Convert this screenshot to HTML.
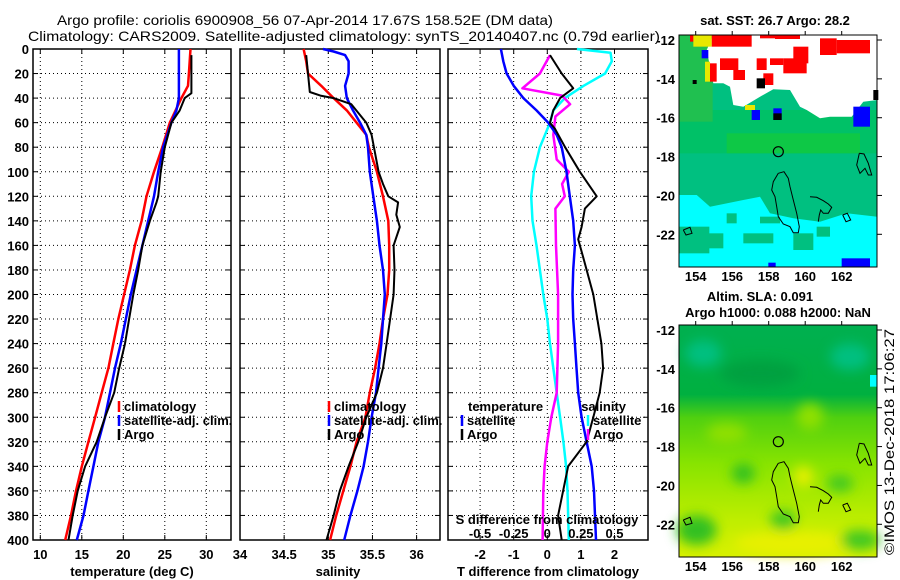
<!DOCTYPE html>
<html><head><meta charset="utf-8"><style>
html,body{margin:0;padding:0;background:#fff;}
svg{display:block;font-family:"Liberation Sans",sans-serif;}
.t{font-size:13px;font-weight:bold;fill:#000;}
.ti{font-size:14px;fill:#000;}
</style></head><body>
<svg id="fig" width="900" height="580" viewBox="0 0 900 580" xmlns="http://www.w3.org/2000/svg">
<text class="ti" x="57" y="25" textLength="496" lengthAdjust="spacingAndGlyphs">Argo profile: coriolis 6900908_56 07-Apr-2014 17.67S 158.52E (DM data)</text>
<text class="ti" x="28" y="41" textLength="632" lengthAdjust="spacingAndGlyphs">Climatology: CARS2009. Satellite-adjusted climatology: synTS_20140407.nc (0.79d earlier)</text>
<g id="charts"></g>
<g id="maps"></g>
<text x="894" y="555" transform="rotate(-90 894 555)" font-size="14" textLength="226" lengthAdjust="spacingAndGlyphs">©IMOS 13-Dec-2018 17:06:27</text>
</svg>
<script>
// ---------- data ----------
const depths = [0,20,40,60,80,100,120,140,160,180,200,220,240,260,280,300,320,340,360,380,400];
const depthTicks = [0,20,40,60,80,100,120,140,160,180,200,220,240,260,280,300,320,340,360,380,400];
const tempTicks = [10,15,20,25,30];
const salTicks = [34,34.5,35,35.5,36];
const tdiffTicks = [-2,-1,0,1,2];
const sdiffTicks = [-0.5,-0.25,0,0.25,0.5];

const tClimDepth = [0,20,30,40,60,80,100,120,140,160,180,200,220,240,260,280,300,320,340,360,380,400];
const tClim = [28.1,27.9,27.8,27.0,25.6,24.7,23.7,22.8,22.2,21.4,20.8,20.1,19.4,18.8,18.2,17.4,16.6,15.8,15.0,14.3,13.7,13.0];
const tSatDepth = [0,40,50,60,80,100,120,140,160,180,200,220,240,260,280,300,320,340,360,380,400];
const tSat = [26.7,26.7,26.4,25.8,24.8,24.2,23.7,23.0,22.3,21.6,20.9,20.3,19.7,19.0,18.4,17.8,17.0,16.4,15.8,15.2,14.4];
const tArgoDepth = [5,36,40,50,60,80,100,120,125,140,160,180,200,220,240,260,280,300,320,340,360,380,400];
const tArgo = [28.2,28.2,27.4,26.8,25.8,25.0,24.5,24.2,24.0,23.2,22.3,21.8,21.2,20.7,20.2,19.5,18.9,17.8,16.8,15.4,14.5,13.9,13.4];

const sClimDepth = [0,10,20,30,40,50,60,70,80,100,120,140,160,180,200,220,240,260,280,300,320,340,360,380,400];
const sClim = [34.72,34.75,34.77,34.92,35.06,35.21,35.32,35.43,35.46,35.55,35.62,35.68,35.69,35.69,35.67,35.62,35.58,35.53,35.47,35.42,35.32,35.25,35.17,35.09,35.02];
const sSatDepth = [0,2,5,10,20,30,40,50,60,70,80,100,120,140,160,180,200,220,240,260,280,300,320,340,360,380,400];
const sSat = [34.94,35.06,35.19,35.23,35.23,35.19,35.21,35.28,35.36,35.43,35.45,35.47,35.51,35.55,35.58,35.62,35.64,35.62,35.60,35.57,35.54,35.49,35.45,35.40,35.33,35.25,35.18];
const sArgoDepth = [5,35,38,40,45,60,70,100,110,120,125,135,145,160,180,200,220,240,260,280,300,320,340,360,380,400];
const sArgo = [34.75,34.79,34.91,35.06,35.26,35.43,35.49,35.57,35.62,35.68,35.79,35.77,35.81,35.74,35.75,35.74,35.70,35.66,35.62,35.55,35.43,35.34,35.23,35.13,35.06,34.98];

const dtSatDepth = [0,10,20,30,40,50,60,70,80,100,120,140,160,180,200,220,240,260,280,300,320,340,360,380,400];
const dtSat = [-1.38,-1.31,-1.21,-1.0,-0.71,-0.32,0.03,0.28,0.43,0.57,0.67,0.77,0.82,0.77,0.75,0.77,0.82,0.87,0.92,1.02,1.17,1.32,1.39,1.42,1.45];
const dtArgoDepth = [5,20,32,40,50,60,65,80,100,120,130,145,155,170,200,240,260,280,300,320,340,360,380,400];
const dtArgo = [0.08,0.43,0.77,0.38,0.18,0.08,0.23,0.53,0.97,1.47,1.12,1.02,0.92,1.07,1.37,1.61,1.66,1.56,1.37,1.17,0.62,0.47,0.32,0.43];
const dsArgoDepth = [5,20,32,38,45,55,70,90,100,110,120,130,160,200,240,280,300,320,340,360,400];
const dsArgo = [0.02,-0.055,-0.185,0.11,0.17,0.06,0.045,0.07,0.16,0.11,0.13,0.06,0.065,0.08,0.08,0.07,0.03,0.0,-0.02,-0.03,-0.035];
const dsSatDepth = [0,3,10,20,30,40,50,60,80,100,120,140,160,180,200,220,240,260,280,300,320,340,360,400];
const dsSat = [0.22,0.47,0.48,0.43,0.27,0.13,0.045,0.02,-0.055,-0.1,-0.12,-0.11,-0.08,-0.055,-0.03,0.0,0.02,0.045,0.07,0.095,0.12,0.14,0.15,0.16];

// ---------- drawing ----------
const NS = "http://www.w3.org/2000/svg";
const charts = document.getElementById('charts');
const TOP = 49, BOT = 540;
function yD(d){ return TOP + d*(BOT-TOP)/400; }
function xT(t){ return 40.3 + (t-10)*8.3; }
function xS(s){ return 240 + (s-34)*88.3; }
function xDT(v){ return 547.3 + v*33.6; }
function xDS(v){ return 547.3 + v*4*33.6; }
function mk(tag, attrs, parent){ const e=document.createElementNS(NS,tag); for(const k in attrs) e.setAttribute(k,attrs[k]); (parent||charts).appendChild(e); return e; }
function txt(x,y,s,anchor,cls,parent){ const e=mk('text',{x:x,y:y,'text-anchor':anchor||'middle','class':cls||'t'},parent); e.textContent=s; return e; }

function panel(name, x0, x1, xTicks, xf, xLabels){
  const g = mk('g',{});
  
  
  depthTicks.forEach(d=>{ if(d>0&&d<400){ const l=mk('line',{x1:x0,x2:x1,y1:yD(d),y2:yD(d),stroke:'#000','stroke-width':1,'stroke-dasharray':'1,3'},g);
     
    mk('line',{x1:x0,x2:x0+5,y1:yD(d),y2:yD(d),stroke:'#000'},g); mk('line',{x1:x1-5,x2:x1,y1:yD(d),y2:yD(d),stroke:'#000'},g);} });
  xTicks.forEach((v,i)=>{ const x=xf(v); if(x>x0+1&&x<x1-1){ const l=mk('line',{x1:x,x2:x,y1:TOP,y2:BOT,stroke:'#000','stroke-width':1,'stroke-dasharray':'1,3'},g);
     
    mk('line',{x1:x,x2:x,y1:TOP,y2:TOP+5,stroke:'#000'},g); mk('line',{x1:x,x2:x,y1:BOT-5,y2:BOT,stroke:'#000'},g);}
    if(xLabels){ const t=txt(x,559,xLabels[i],'middle','t',g);   } });
  const r=mk('rect',{x:x0,y:TOP,width:x1-x0,height:BOT-TOP,fill:'none',stroke:'#000','stroke-width':1.5},g);
   
  return g;
}
function line(g, ds, vs, xf, color, w, name){
  const p = ds.map((d,i)=>xf(vs[i]).toFixed(1)+','+yD(d).toFixed(1)).join(' ');
  const e = mk('polyline',{points:p,fill:'none',stroke:color,'stroke-width':w,'stroke-linejoin':'round'},g);
  
  
}
function legend(g, x, y, color, label){
  const m=mk('line',{x1:x,x2:x,y1:y-10,y2:y+1,stroke:color,'stroke-width':2.5},g);
   
  if(label){ const t=txt(x+5,y,label,'start','t',g);   }
}

depthTicks.forEach(d=>{ const t=txt(29,yD(d)+5,String(d),'end');
    });

const g1 = panel('temperature-panel', 33, 231, tempTicks, xT, tempTicks.map(String));
line(g1, tClimDepth, tClim, xT, '#f00', 2.5, 'temperature-climatology-line');
line(g1, tSatDepth, tSat, xT, '#00f', 2.5, 'temperature-satellite-line');
line(g1, tArgoDepth, tArgo, xT, '#000', 2, 'temperature-argo-line');
legend(g1,119,411,'#f00','climatology'); legend(g1,119,425,'#00f','satellite-adj. clim.'); legend(g1,119,439,'#000','Argo');
txt(132,576,'temperature (deg C)');

const g2 = panel('salinity-panel', 240, 440, salTicks, xS, ['34','34.5','35','35.5','36']);
line(g2, sClimDepth, sClim, xS, '#f00', 2.5, 'salinity-climatology-line');
line(g2, sSatDepth, sSat, xS, '#00f', 2.5, 'salinity-satellite-line');
line(g2, sArgoDepth, sArgo, xS, '#000', 2, 'salinity-argo-line');
legend(g2,329,411,'#f00','climatology'); legend(g2,329,425,'#00f','satellite-adj. clim.'); legend(g2,329,439,'#000','Argo');
txt(338,576,'salinity');

const g3 = panel('difference-panel', 448, 648, tdiffTicks, xDT, tdiffTicks.map(String));
line(g3, dsSatDepth, dsSat, xDS, '#0ff', 2.5, 'salinity-diff-satellite-line');
line(g3, dsArgoDepth, dsArgo, xDS, '#f0f', 2.5, 'salinity-diff-argo-line');
line(g3, dtSatDepth, dtSat, xDT, '#00f', 2.5, 'temperature-diff-satellite-line');
line(g3, dtArgoDepth, dtArgo, xDT, '#000', 2, 'temperature-diff-argo-line');
txt(468,411,'temperature','start');
legend(g3,462,425,'#00f','satellite'); legend(g3,462,439,'#000','Argo');
txt(626,411,'salinity','end');
legend(g3,588,425,'#0ff','satellite'); legend(g3,588,439,'#f0f','Argo');
txt(547,524,'S difference from climatology');
sdiffTicks.forEach((v,i)=>{ const t=txt(xDS(v),538,['-0.5','-0.25','0','0.25','0.5'][i]);
    });
txt(548,576,'T difference from climatology');

// ---------- maps ----------
const maps = document.getElementById('maps');
function zp(pts, dy){ return pts.map(p=>(660+p[0]/3).toFixed(1)+','+(p[1]/3+dy).toFixed(1)).join(' '); }
function zr(r, dy, fill, parent, name){ const e=mk('rect',{x:660+r[0]/3,y:r[1]/3+dy,width:r[2]/3,height:r[3]/3,fill:fill},parent);   return e; }
const island1=[[355,520],[372,515],[385,535],[390,560],[400,600],[410,640],[418,680],[415,698],[400,698],[390,680],[370,672],[355,650],[350,620],[345,590],[335,570],[340,545],[355,520]];
const island2=[[450,590],[470,592],[490,602],[505,612],[515,622],[505,640],[490,640],[482,630],[478,645],[475,665]];
const island3=[[598,460],[612,462],[625,490],[635,525],[625,525],[615,505],[600,520],[590,495],[598,460]];
const island4=[[70,690],[90,682],[96,700],[78,705],[70,690]];
const island5=[[548,645],[562,640],[572,660],[558,665],[548,645]];
function mapFrame(dy, name){
  const g = mk('g',{},maps);
  
  
  return g;
}
function decorate(g, dy){
  [island1,island2,island3,island4,island5].forEach(is=>{ const e=mk('polyline',{points:zp(is,dy),fill:'none',stroke:'#000','stroke-width':1},g);   });
  const c=mk('circle',{cx:660+355/3,cy:455/3+dy,r:5,fill:'none',stroke:'#000','stroke-width':1.2},g);
   
  const f=mk('rect',{x:679,y:35+dy,width:198,height:232,fill:'none',stroke:'#000','stroke-width':1},g);
   
  [-12,-14,-16,-18,-20,-22].forEach(lat=>{ const y=40+(-12-lat)*19.43+dy;
    mk('line',{x1:877,x2:882,y1:y,y2:y,stroke:'#000'},g);
    const t=txt(675,y+5,String(lat),'end','t',g);   });
  [154,156,158,160,162].forEach(lon=>{ const x=695.7+(lon-154)*18.25;
    mk('line',{x1:x,x2:x,y1:35+dy,y2:31+dy,stroke:'#000'},g);
    const t=txt(x,281+dy,String(lon),'middle','t',g);   });
}
const m1 = mapFrame(0,'sst-map');
zr([58,105,594,695],0,'#00c080',m1,'sst-base');
zr([58,330,594,130],0,'#00c060',m1,'sst-green-band').setAttribute('opacity','0.8');
zr([200,400,400,60],0,'#20d020',m1,'sst-bright-band').setAttribute('opacity','0.45');
zr([58,105,100,260],0,'#20c050',m1,'sst-left-band');
let cy=mk('polygon',{points:zp([[58,585],[110,585],[150,620],[250,600],[300,590],[330,640],[400,655],[480,665],[560,640],[652,650],[652,800],[58,800]],0),fill:'#00ffff'},m1);
 
[[58,680,90,80],[110,700,80,45],[250,700,90,30],[400,700,60,50],[200,640,30,30],[300,650,60,20],[470,680,40,30]].forEach(r=>zr(r,0,'#00c080',m1,'sst-patch'));
let wh=mk('polygon',{points:zp([[160,105],[652,105],[652,300],[610,305],[575,350],[510,350],[480,355],[440,330],[420,320],[390,270],[340,268],[300,290],[250,320],[220,315],[210,260],[190,250],[160,250],[150,200],[140,150]],0),fill:'#fff'},m1);
 
[[155,105,120,35],[300,105,60,10],[345,105,75,12],[480,115,50,50],[530,120,100,40],[400,140,45,50],[180,175,55,35],[220,210,35,30],[290,175,30,35],[330,175,40,20],[370,175,70,45],[150,190,20,55],[310,220,30,35],[90,105,20,20]].forEach(r=>zr(r,0,'#f00',m1,'sst-warm-cell'));
[[100,105,55,35],[255,315,30,15],[135,185,15,60]].forEach(r=>zr(r,0,'#e8e800',m1,'sst-yellow-cell'));
[[275,330,25,30],[340,325,25,35],[580,320,50,60],[545,775,85,25],[325,788,22,12],[125,150,20,25]].forEach(r=>zr(r,0,'#00f',m1,'sst-blue-cell'));
[[290,235,25,30],[640,270,15,30],[340,340,25,20],[98,240,12,12]].forEach(r=>zr(r,0,'#000',m1,'sst-black-cell'));
decorate(m1,0);
txt(775,25,'sat. SST: 26.7 Argo: 28.2','middle','t',m1);

const m2 = mapFrame(290,'sla-map');
const defs = mk('defs',{},m2);
const lg = mk('linearGradient',{id:'slag',x1:0,y1:0,x2:0,y2:1},defs);
[['0','#00b050'],['0.3','#00b040'],['0.40','#50d010'],['0.6','#88e400'],['0.85','#c0ee00'],['1','#d8f000']].forEach(s=>mk('stop',{offset:s[0],'stop-color':s[1]},lg));
const fl = mk('filter',{id:'blur'},defs); mk('feGaussianBlur',{stdDeviation:6},fl);
zr([58,105,594,695],290,'url(#slag)',m2,'sla-field');
const bg=mk('g',{filter:'url(#blur)'},m2);
[[130,190,55,40,'#00c080'],[570,200,60,40,'#00c080'],[300,250,120,40,'#00a040'],[250,550,35,30,'#30c020'],[110,720,60,45,'#30c020'],[540,580,40,25,'#40c820'],[370,690,40,30,'#40c820'],[430,560,30,30,'#e8f000'],[400,760,180,35,'#e8f000'],[600,750,60,30,'#40c820'],[200,430,60,30,'#90e000'],[450,380,40,40,'#90e000']].forEach(b=>{
  const e=mk('ellipse',{cx:660+b[0]/3,cy:b[1]/3+290,rx:b[2]/3,ry:b[3]/3,fill:b[4]},bg);
    });
zr([630,255,20,35],290,'#00ffff',m2,'sla-cyan-cell');
decorate(m2,290);
txt(760,301,'Altim. SLA: 0.091','middle','t',m2);
txt(778,317,'Argo h1000: 0.088 h2000: NaN','middle','t',m2);
</script>
</body></html>
